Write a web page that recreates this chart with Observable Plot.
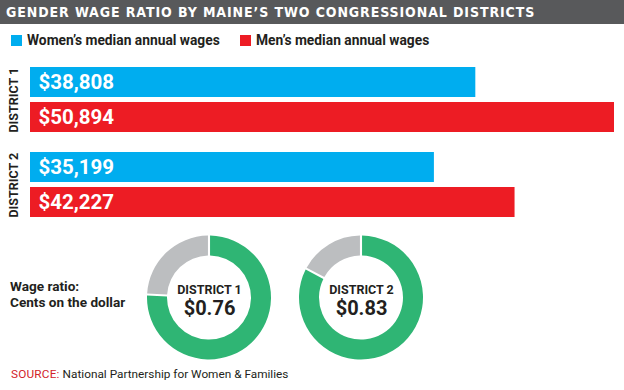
<!DOCTYPE html>
<html><head><meta charset="utf-8">
<script src="https://cdn.jsdelivr.net/npm/d3@7"></script>
<script src="https://cdn.jsdelivr.net/npm/@observablehq/plot@0.6"></script>
<style>
body{margin:0;background:#fff;}
#wrap{position:relative;width:624px;height:390px;overflow:hidden;font-family:Roboto,"DejaVu Sans",sans-serif;color:#231f20;}
.abs{position:absolute;white-space:nowrap;}
#titlebar{left:0;top:0;width:624px;height:24px;background:#58595b;}
#title{left:6px;top:5px;color:#fff;font-family:"DejaVu Sans Condensed","DejaVu Sans",sans-serif;font-stretch:condensed;font-weight:bold;font-size:14px;line-height:14px;letter-spacing:0.9px;}
.sw{width:11px;height:11px;top:35px;}
.lg{top:34.4px;font-weight:bold;font-size:13.8px;line-height:13.8px;}
.wr{left:10px;font-weight:bold;font-size:13.6px;line-height:13.6px;}
#src{left:11px;top:369px;font-size:11.8px;line-height:11.8px;}
#src span{color:#d2232a;letter-spacing:0.2px;}
#bars{left:0;top:60px;}
#donuts{left:0;top:230px;}
</style></head>
<body>
<div id="wrap">
  <div id="titlebar" class="abs"></div>
  <div id="title" class="abs"></div>
  <div id="sw0" class="abs sw"></div><div id="lg0" class="abs lg"></div>
  <div id="sw1" class="abs sw"></div><div id="lg1" class="abs lg"></div>
  <div id="bars" class="abs"></div>
  <div id="donuts" class="abs"></div>
  <div id="wr0" class="abs wr" style="top:279.5px"></div>
  <div id="wr1" class="abs wr" style="top:295.5px"></div>
  <div id="src" class="abs"></div>
</div>
<script>
// ---- data ----
const title = "GENDER WAGE RATIO BY MAINE’S TWO CONGRESSIONAL DISTRICTS";
const districts = ["DISTRICT 1", "DISTRICT 2"];
const series = ["Women’s median annual wages", "Men’s median annual wages"];
const womenWages = [38808, 35199];
const menWages = [50894, 42227];
const ratios = [0.76, 0.83];
const ratioLabels = ["$0.76", "$0.83"];
const ratioTitle = ["Wage ratio:", "Cents on the dollar"];
const sourceLabel = "SOURCE:";
const sourceText = "National Partnership for Women & Families";

// ---- styles ----
const blue = "#00adef", red = "#ed1c24", green = "#2fb574", gray = "#bcbec0", ink = "#231f20";
const FONT = 'Roboto,"DejaVu Sans",sans-serif';
const barH = 30, barGap = 5, groupGap = 20;

document.getElementById("title").textContent = title;
const sw0 = document.getElementById("sw0"), sw1 = document.getElementById("sw1");
sw0.style.left = "11px"; sw0.style.background = blue;
sw1.style.left = "240px"; sw1.style.background = red;
const lg0 = document.getElementById("lg0"), lg1 = document.getElementById("lg1");
lg0.style.left = "27px"; lg0.textContent = series[0];
lg1.style.left = "256px"; lg1.textContent = series[1];
document.getElementById("wr0").textContent = ratioTitle[0];
document.getElementById("wr1").textContent = ratioTitle[1];
document.getElementById("src").innerHTML = `<span>${sourceLabel}</span> ${sourceText.replace("&","&amp;")}`;

const rows = districts.flatMap((d, i) => [
  {district: d, series: series[0], value: womenWages[i]},
  {district: d, series: series[1], value: menWages[i]}
]);
const fmt = v => "$" + d3.format(",")(v);
const groupH = 2 * barH + barGap;

const bars = Plot.plot({
  width: 624, height: 165,
  marginTop: 7, marginBottom: 8, marginLeft: 30, marginRight: 10,
  style: {fontFamily: FONT, background: "transparent"},
  x: {domain: [0, d3.max(menWages)], axis: null},
  y: {domain: series, paddingInner: barGap / (barH + barGap), paddingOuter: 0, axis: null},
  fy: {domain: districts, paddingInner: groupGap / (groupH + groupGap), paddingOuter: 0, axis: null},
  color: {domain: series, range: [blue, red]},
  marks: [
    Plot.barX(rows, {fy: "district", y: "series", x: "value", fill: "series"}),
    Plot.text(rows, {fy: "district", y: "series", text: d => fmt(d.value), frameAnchor: "left", textAnchor: "start", dx: 8, fill: "white", fontSize: 20.5, fontWeight: "bold"}),
    Plot.text(districts, {fy: d => d, text: d => d, frameAnchor: "left", rotate: -90, dx: -17, dy: groupH / 2, fill: ink, fontSize: 12.5, fontWeight: "bold"})
  ]
});
document.getElementById("bars").appendChild(bars);

function donutMark(index, scales, values, dimensions) {
  const x = scales.x;
  const bw = typeof x.bandwidth === "function" ? x.bandwidth() : (x.bandwidth || 0);
  const cy = (dimensions.marginTop + dimensions.height - dimensions.marginBottom) / 2;
  const g = d3.create("svg:g");
  const pie = d3.pie().sort(null).value(p => p.v).padAngle(0.028);
  const arc = d3.arc().innerRadius(42).outerRadius(62);
  districts.forEach((d, i) => {
    const parts = [{k: "ratio", v: ratios[i]}, {k: "rest", v: 1 - ratios[i]}];
    g.append("g").attr("transform", `translate(${x(d) + bw / 2},${cy})`)
      .selectAll("path").data(pie(parts)).join("path")
      .attr("fill", p => p.data.k === "ratio" ? green : gray)
      .attr("d", arc);
  });
  return g.node();
}

const donuts = Plot.plot({
  width: 624, height: 135,
  marginTop: 0, marginBottom: 0, marginLeft: 133, marginRight: 187,
  style: {fontFamily: FONT, background: "transparent"},
  x: {type: "band", domain: districts, padding: 0, axis: null},
  marks: [
    donutMark,
    Plot.text(districts, {x: d => d, text: d => d, frameAnchor: "middle", dy: -8, fill: ink, fontSize: 12.5, fontWeight: "bold"}),
    Plot.text(districts, {x: d => d, text: (d, i) => ratioLabels[i], frameAnchor: "middle", dy: 10.5, fill: ink, fontSize: 20, fontWeight: "bold"})
  ]
});
document.getElementById("donuts").appendChild(donuts);
</script>
</body></html>
